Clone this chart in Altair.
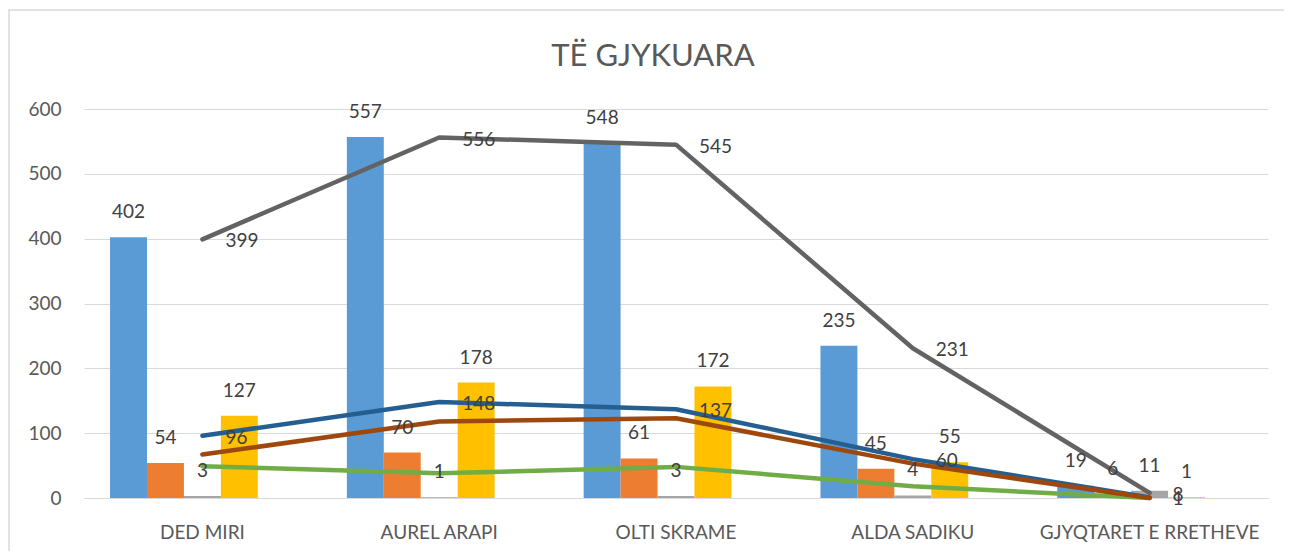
import altair as alt
import pandas as pd

title_text = "TË GJYKUARA"
categories = ["DED MIRI", "AUREL ARAPI", "OLTI SKRAME", "ALDA SADIKU", "GJYQTARET E RRETHEVE"]

bar_series = ["s1", "s2", "s3", "s4", "s5"]
bar_colors = ["#5B9BD5", "#ED7D31", "#A5A5A5", "#FFC000", "#4472C4"]
bar_s1 = [402, 557, 548, 235, 19]
bar_s2 = [54, 70, 61, 45, 6]
bar_s3 = [3, 1, 3, 4, 11]
bar_s4 = [127, 178, 172, 55, 1]

line_names = ["green", "darkblue", "brown", "gray"]
line_colors = ["#70AD47", "#255E91", "#9E480E", "#636363"]
line_green = [49, 38, 48, 18, 0]
line_darkblue = [96, 148, 137, 60, 1]
line_brown = [67, 118, 123, 53, 0]
line_gray = [399, 556, 545, 231, 8]
labelled_lines = ["darkblue", "gray"]

FONT = "Lato"
W, H = 1184, 389

rows = []
for s, vals in zip(bar_series[:4], [bar_s1, bar_s2, bar_s3, bar_s4]):
    for c, v in zip(categories, vals):
        rows.append({"cat": c, "series": s, "value": v})
bars_df = pd.DataFrame(rows)

x_enc = alt.X(
    "cat:N",
    sort=categories,
    scale=alt.Scale(domain=categories, paddingInner=0.22, paddingOuter=0.11),
    axis=alt.Axis(
        title=None,
        labelAngle=0,
        labelFont=FONT,
        labelFontSize=19,
        labelColor="#595959",
        labelPadding=25,
        labelLimit=0,
        labelOverlap=False,
        ticks=False,
        domainColor="#d9d9d9",
        domainWidth=1,
        grid=False,
    ),
)
y_enc = alt.Y(
    "value:Q",
    scale=alt.Scale(domain=[0, 600], nice=False),
    axis=alt.Axis(
        title=None,
        values=[0, 100, 200, 300, 400, 500, 600],
        grid=True,
        gridColor="#d9d9d9",
        gridWidth=1,
        domain=False,
        ticks=False,
        labelFont=FONT,
        labelFontSize=19,
        labelColor="#595959",
        labelPadding=23,
    ),
)
xoff = alt.XOffset(
    "series:N",
    scale=alt.Scale(domain=bar_series, paddingInner=0, paddingOuter=0),
)

bars = alt.Chart(bars_df).mark_bar().encode(
    x=x_enc,
    y=y_enc,
    xOffset=xoff,
    fill=alt.Fill("series:N", scale=alt.Scale(domain=bar_series, range=bar_colors), legend=None),
)
bar_text = alt.Chart(bars_df).mark_text(
    font=FONT, fontSize=19, color="#404040", baseline="middle", dy=-25
).encode(
    x=alt.X("cat:N", sort=categories),
    y="value:Q",
    xOffset=xoff,
    text="value:Q",
)

layers = [bars]
line_vals = {"green": line_green, "darkblue": line_darkblue, "brown": line_brown, "gray": line_gray}
for name, col in zip(line_names, line_colors):
    ldf = pd.DataFrame({"cat": categories, "value": line_vals[name]})
    ln = alt.Chart(ldf).mark_line(
        strokeWidth=4.5, strokeCap="round", strokeJoin="round", color=col
    ).encode(x=alt.X("cat:N", sort=categories), y="value:Q")
    layers.append(ln)
layers.append(bar_text)
for name in labelled_lines:
    ldf = pd.DataFrame({"cat": categories, "value": line_vals[name]})
    lt = alt.Chart(ldf).mark_text(
        font=FONT, fontSize=19, color="#404040", align="left", baseline="middle", dx=23, dy=2
    ).encode(x=alt.X("cat:N", sort=categories), y="value:Q", text="value:Q")
    layers.append(lt)

border = alt.Chart(pd.DataFrame({"a": [0]})).mark_rect(
    fillOpacity=0, stroke="#d9d9d9", strokeWidth=1.5
).encode(
    x=alt.value(-75), x2=alt.value(W + 200), y=alt.value(-99), y2=alt.value(H + 300)
)
layers.append(border)

title = alt.Chart(pd.DataFrame({"t": [title_text]})).mark_text(
    font=FONT, fontSize=31, color="#595959", align="center", baseline="alphabetic"
).encode(x=alt.value(569), y=alt.value(-43), text="t:N")
layers.append(title)

chart = alt.layer(*layers).properties(
    width=W,
    height=H,
    padding={"left": 76, "top": 101, "right": 16, "bottom": 53},
    autosize=alt.AutoSizeParams(type="none"),
).configure_view(stroke=None)

chart.save("out.html", embed_options={"renderer": "svg", "actions": False})
